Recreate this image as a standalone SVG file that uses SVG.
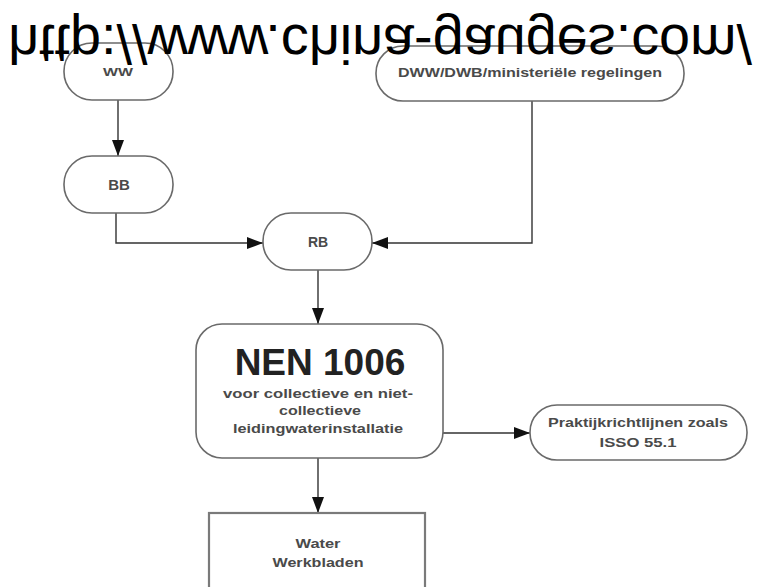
<svg xmlns="http://www.w3.org/2000/svg" width="758" height="587" viewBox="0 0 758 587">
<style>
.node{fill:#fff;stroke:#6a6a6a;stroke-width:1.6}
.box{fill:#fff;stroke:#7a7a7a;stroke-width:2.2}
.lbl{font-family:"Liberation Sans",Arial,sans-serif;font-weight:bold;fill:#4a4a4a;text-anchor:middle}
.edge{fill:none;stroke:#333;stroke-width:1.4}
.wm{font-family:"Liberation Sans",Arial,sans-serif;font-size:55px;fill:#000}
</style>
<defs>
<marker id="arr" viewBox="0 0 16 12" markerWidth="16" markerHeight="12" refX="16" refY="6" orient="auto" markerUnits="userSpaceOnUse">
<path d="M0,0 L16,6 L0,12 z" fill="#111"/>
</marker>
</defs>
<rect width="758" height="587" fill="#fff"/>
<g id="connectors">
<path class="edge" d="M118,100 V156" marker-end="url(#arr)"/>
<path class="edge" d="M116,213 V243 H263" marker-end="url(#arr)"/>
<path class="edge" d="M532,101 V243 H372" marker-end="url(#arr)"/>
<path class="edge" d="M318,270 V324" marker-end="url(#arr)"/>
<path class="edge" d="M443,433 H530" marker-end="url(#arr)"/>
<path class="edge" d="M318,458 V513" marker-end="url(#arr)"/>
</g>
<g id="ww">
<rect class="node" x="64" y="43" width="109" height="57" rx="28"/>
<text class="lbl" x="118" y="76" font-size="11" textLength="30" lengthAdjust="spacingAndGlyphs">WW</text>
</g>
<g id="dww">
<rect class="node" x="376" y="46" width="308" height="55" rx="27"/>
<text class="lbl" x="530" y="76.5" font-size="12" textLength="264" lengthAdjust="spacingAndGlyphs">DWW/DWB/ministeriële regelingen</text>
</g>
<g id="bb">
<rect class="node" x="64" y="156" width="109" height="57" rx="28"/>
<text class="lbl" x="119" y="190" font-size="15">BB</text>
</g>
<g id="rb">
<rect class="node" x="263" y="213" width="109" height="57" rx="28"/>
<text class="lbl" x="318" y="247" font-size="14">RB</text>
</g>
<g id="nen">
<rect class="node" x="196" y="324" width="247" height="134" rx="26"/>
<text class="lbl" x="320" y="375" font-size="37" style="fill:#222">NEN 1006</text>
<text class="lbl" x="318" y="397.5" font-size="12.5" textLength="190" lengthAdjust="spacingAndGlyphs">voor collectieve en niet-</text>
<text class="lbl" x="320" y="414.5" font-size="12.5" textLength="82" lengthAdjust="spacingAndGlyphs">collectieve</text>
<text class="lbl" x="318" y="432.5" font-size="12.5" textLength="170" lengthAdjust="spacingAndGlyphs">leidingwaterinstallatie</text>
</g>
<g id="praktijk">
<rect class="node" x="530" y="405" width="217" height="55" rx="27"/>
<text class="lbl" x="638" y="426.5" font-size="12.5" textLength="180" lengthAdjust="spacingAndGlyphs">Praktijkrichtlijnen zoals</text>
<text class="lbl" x="638" y="446.5" font-size="12.5" textLength="77" lengthAdjust="spacingAndGlyphs">ISSO 55.1</text>
</g>
<g id="water">
<rect class="box" x="209" y="513" width="216" height="100"/>
<text class="lbl" x="318" y="547.5" font-size="12.5" textLength="45" lengthAdjust="spacingAndGlyphs">Water</text>
<text class="lbl" x="318" y="566.5" font-size="12.5" textLength="91" lengthAdjust="spacingAndGlyphs">Werkbladen</text>
</g>
<g id="watermark" transform="translate(0,25) scale(1,-1)">
<text class="wm" x="8" y="0" textLength="744" lengthAdjust="spacingAndGlyphs">http://www.china-gauges.com/</text>
</g>
</svg>
